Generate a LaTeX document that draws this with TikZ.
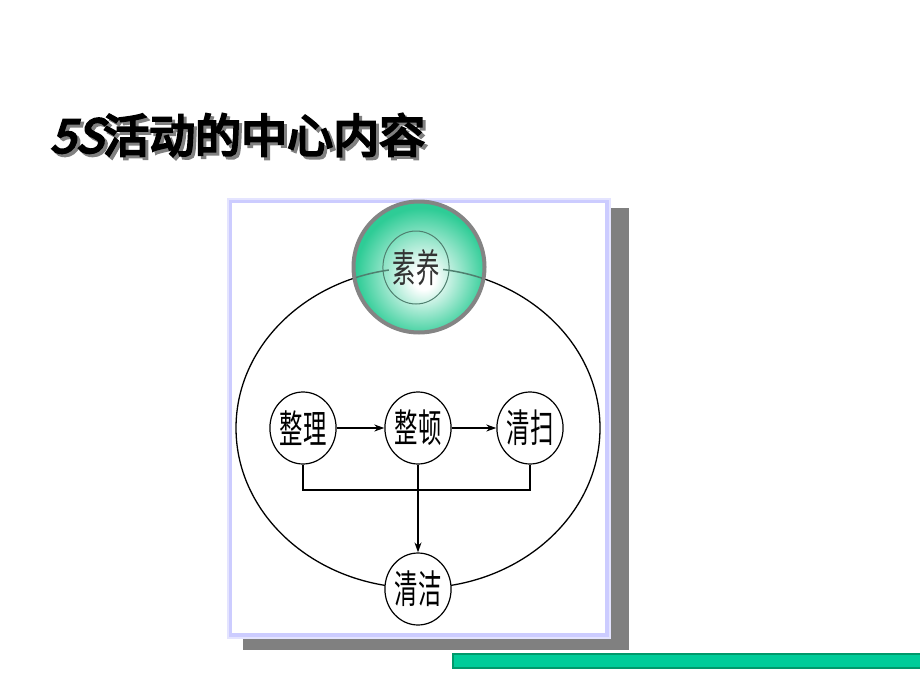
\documentclass[tikz,border=0pt]{standalone}
\usepackage{fontspec}
\usetikzlibrary{shapes.geometric,arrows.meta}
\newfontfamily\cjk[FakeStretch=0.6]{Noto Sans CJK SC}
\newfontfamily\ttl[FakeBold=5]{Noto Sans CJK SC}
\newfontfamily\ttllat[FakeBold=5,FakeSlant=0.25]{Noto Sans CJK SC}
\definecolor{lav}{HTML}{CCCCFF}
\definecolor{lavlt}{HTML}{E4E4FF}
\definecolor{shd}{HTML}{808080}
\definecolor{barc}{HTML}{00CC99}
\definecolor{bardk}{HTML}{00996B}
\definecolor{gedge}{HTML}{2ECC96}
\definecolor{gline}{HTML}{4F7F6F}
\definecolor{ring}{HTML}{848484}
\pgfdeclareradialshading{gball}{\pgfpoint{2bp}{-5bp}}{color(0bp)=(white); color(4bp)=(white); color(25bp)=(gedge); color(50bp)=(gedge)}
\begin{document}
\begin{tikzpicture}[x=1pt,y=-1pt,
  lbl/.style={ellipse,draw=black,line width=1.2pt,fill=white,minimum width=52pt,minimum height=72pt,inner sep=0pt,font=\cjk\fontsize{39}{39}\selectfont},
  arr/.style={line width=1.3pt,-{Stealth[length=10pt,width=7pt]}},
  lin/.style={line width=1.3pt},
  ttlfont/.style={font=\fontsize{46}{46}\selectfont}]
\useasboundingbox (0,0) rectangle (920,690);
% frame with shadow
\fill[shd] (243,208) rectangle (629,650);
\fill[lavlt] (227,198) rectangle (611,639);
\fill[lav] (229,200) rectangle (609,637);
\fill[white] (232,203) rectangle (605,633);
% big ellipse
\draw[line width=1.3pt] (418,428) ellipse [x radius=182pt, y radius=160pt];
% green ball
\node[circle,minimum size=131pt,inner sep=0pt,draw=ring,line width=4pt,shading=gball] (gc) at (419,267) {};
\begin{scope}
\clip (419,267) circle [radius=64pt];
\draw[gline,line width=1.5pt] (418,428) ellipse [x radius=182pt, y radius=160pt];
\end{scope}
\begin{scope}
\clip (416,267.5) ellipse [x radius=27pt, y radius=36.5pt];
\shade[shading=gball] (419,267) circle [radius=65.5pt];
\end{scope}
\node[ellipse,draw=gline,line width=1pt,minimum width=54pt,minimum height=73pt,inner sep=0pt,text=black!80,font=\cjk\fontsize{39}{39}\selectfont] (sy) at (416,267.5) {素养};
% process nodes
\node[lbl] (zl) at (303,428) {整理};
\node[lbl] (zd) at (418,428) {整顿};
\node[lbl] (qs) at (530,428) {清扫};
\node[lbl] (qj) at (418,589) {清洁};
\coordinate (j) at (418,490);
\draw[arr] (zl) -- (zd);
\draw[arr] (zd) -- (qs);
\draw[lin] (zl.south) |- (j) -| (qs.south);
\draw[arr] (zd.south) -- (qj.north);
% bottom bar
\draw[fill=barc,draw=bardk,line width=1.2pt] (453,654) rectangle (922,668);
% title
\node[anchor=west,inner sep=0pt,text=black!50,ttlfont] (tsh) at (53,138) {{\ttllat 5S}{\ttl 活动的中心内容}};
\node[anchor=west,inner sep=0pt,ttlfont] (title) at (50,135) {{\ttllat 5S}{\ttl 活动的中心内容}};
\end{tikzpicture}
\end{document}
